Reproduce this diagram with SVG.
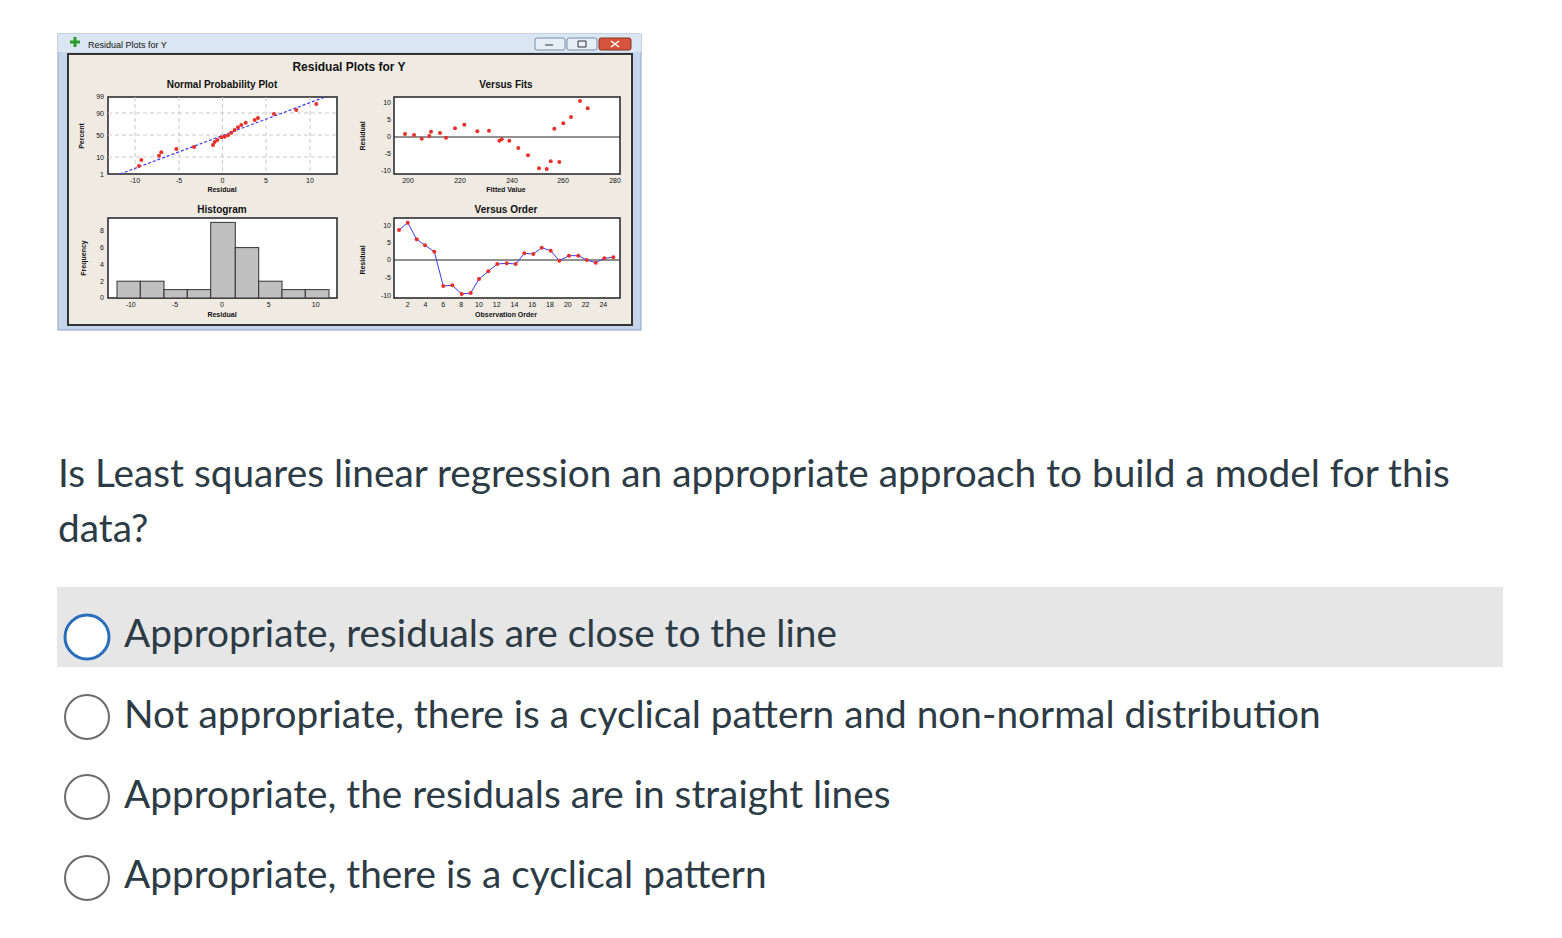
<svg xmlns="http://www.w3.org/2000/svg" width="1562" height="938" viewBox="0 0 1562 938">
<style>
.t{font-family:"Liberation Sans",Arial,sans-serif;fill:#111}
.b{font-weight:bold}
.tk{font-size:7px;font-family:"Liberation Sans",sans-serif;fill:#111}
.pt{fill:#e8302a}
.g{stroke:#c8c8c8;stroke-dasharray:4 3;stroke-width:1}
.box{fill:#fff;stroke:#222;stroke-width:1.5}
.bar{fill:#c0c0c0;stroke:#333;stroke-width:1}
.q{font-family:Lato,"Liberation Sans",sans-serif;font-size:38.8px;fill:#2d3b45}
.r{fill:#fff;stroke:#6b6b6b;stroke-width:2}
</style>
<rect width="1562" height="938" fill="#fff"/>
<g id="window">
<rect x="58" y="34" width="583" height="296" fill="#c6d6ea" stroke="#8aa3c4"/>
<rect x="58" y="34" width="583" height="18" fill="#dbe6f3"/>
<text x="88" y="48" class="t" font-size="9">Residual Plots for Y</text>
<path d="M70 42h10M75 37v10" stroke="#2a9a2a" stroke-width="3"/>
<rect x="535" y="38" width="30" height="12" rx="2" fill="#e6eef7" stroke="#7a8ca5"/>
<rect x="567" y="38" width="30" height="12" rx="2" fill="#e6eef7" stroke="#7a8ca5"/>
<rect x="599" y="38" width="32" height="12" rx="2" fill="#d4543d" stroke="#8a3020"/>
<path d="M545 45h8M578 41h8v6h-8z" stroke="#333" fill="none"/>
<path d="M611 41l8 6M619 41l-8 6" stroke="#fff" stroke-width="1.5"/>
<rect x="68" y="54" width="564" height="271" fill="#efebe3" stroke="#333" stroke-width="2"/>
<text x="349" y="71" class="t b" font-size="12" text-anchor="middle">Residual Plots for Y</text>
</g>
<g id="npp">
<text x="222" y="88" class="t b" font-size="10" text-anchor="middle">Normal Probability Plot</text>
<rect x="108" y="97" width="229" height="77" class="box"/>
<path class="g" d="M135 97V174M179 97V174M222.5 97V174M266 97V174M310 97V174M108 113H337M108 135H337M108 157H337"/>
<line x1="120" y1="174" x2="325" y2="97" stroke="#3a3af0" stroke-dasharray="3 2" stroke-width="1.2"/>
<g class="pt"><circle cx="139" cy="166" r="2"/><circle cx="141.3" cy="160" r="2"/><circle cx="159" cy="155.7" r="2"/><circle cx="161.3" cy="152.3" r="2"/><circle cx="176.3" cy="149" r="2"/><circle cx="194" cy="147" r="2"/><circle cx="213" cy="145" r="2"/><circle cx="214.7" cy="142" r="2"/><circle cx="217.3" cy="140" r="2"/><circle cx="221.3" cy="137.3" r="2"/><circle cx="224.7" cy="136.7" r="2"/><circle cx="228" cy="135.3" r="2"/><circle cx="231.3" cy="132.7" r="2"/><circle cx="234.7" cy="130" r="2"/><circle cx="238" cy="127.3" r="2"/><circle cx="241.3" cy="125" r="2"/><circle cx="245.7" cy="122.7" r="2"/><circle cx="254.7" cy="120" r="2"/><circle cx="258" cy="118" r="2"/><circle cx="274" cy="114" r="2"/><circle cx="296.3" cy="110" r="2"/><circle cx="316.3" cy="104" r="2"/></g>
<g class="tk" text-anchor="end"><text x="104" y="99">99</text><text x="104" y="116">90</text><text x="104" y="138">50</text><text x="104" y="160">10</text><text x="104" y="177">1</text></g>
<g class="tk" text-anchor="middle"><text x="135" y="183">-10</text><text x="179" y="183">-5</text><text x="222.5" y="183">0</text><text x="266" y="183">5</text><text x="310" y="183">10</text></g>
<text x="222" y="192" class="t b" font-size="7" text-anchor="middle">Residual</text>
<text transform="translate(84 136) rotate(-90)" class="t b" font-size="7" text-anchor="middle">Percent</text>
</g>
<g id="hist">
<text x="222" y="213" class="t b" font-size="10" text-anchor="middle">Histogram</text>
<rect x="108" y="218" width="229" height="80" class="box"/>
<g class="bar"><rect x="117" y="281.2" width="23.3" height="16.8"/><rect x="140.3" y="281.2" width="23.7" height="16.8"/><rect x="164" y="289.6" width="23.3" height="8.4"/><rect x="187.3" y="289.6" width="23.4" height="8.4"/><rect x="210.7" y="222.4" width="24.6" height="75.6"/><rect x="235.3" y="247.6" width="23.4" height="50.4"/><rect x="258.7" y="281.2" width="23.3" height="16.8"/><rect x="282" y="289.6" width="23.3" height="8.4"/><rect x="305.3" y="289.6" width="23.7" height="8.4"/></g>
<g class="tk" text-anchor="end"><text x="104" y="233">8</text><text x="104" y="250">6</text><text x="104" y="267">4</text><text x="104" y="284">2</text><text x="104" y="300">0</text></g>
<g class="tk" text-anchor="middle"><text x="130.7" y="307">-10</text><text x="175" y="307">-5</text><text x="222" y="307">0</text><text x="268.7" y="307">5</text><text x="315.7" y="307">10</text></g>
<text x="222" y="317" class="t b" font-size="7" text-anchor="middle">Residual</text>
<text transform="translate(86 258) rotate(-90)" class="t b" font-size="7" text-anchor="middle">Frequency</text>
</g>
<g id="fits">
<text x="506" y="88" class="t b" font-size="10" text-anchor="middle">Versus Fits</text>
<rect x="394" y="97" width="226" height="77" class="box"/>
<line x1="394" y1="137" x2="620" y2="137" stroke="#222"/>
<g class="pt"><circle cx="405" cy="134" r="2"/><circle cx="414" cy="135" r="2"/><circle cx="421.7" cy="138.7" r="2"/><circle cx="429.3" cy="136" r="2"/><circle cx="431" cy="131.7" r="2"/><circle cx="440" cy="133" r="2"/><circle cx="446" cy="137.7" r="2"/><circle cx="455" cy="128.3" r="2"/><circle cx="464.3" cy="124.7" r="2"/><circle cx="477.3" cy="131.3" r="2"/><circle cx="489" cy="130.7" r="2"/><circle cx="499.3" cy="140.7" r="2"/><circle cx="501.7" cy="139.3" r="2"/><circle cx="509.3" cy="140.7" r="2"/><circle cx="518.3" cy="148" r="2"/><circle cx="528" cy="155.3" r="2"/><circle cx="539" cy="168.3" r="2"/><circle cx="546.7" cy="169" r="2"/><circle cx="550.7" cy="161.3" r="2"/><circle cx="559.3" cy="162" r="2"/><circle cx="554.3" cy="128.7" r="2"/><circle cx="563.3" cy="123.3" r="2"/><circle cx="571" cy="117" r="2"/><circle cx="580" cy="101" r="2"/><circle cx="587.7" cy="108.3" r="2"/></g>
<g class="tk" text-anchor="end"><text x="391" y="105">10</text><text x="391" y="122">5</text><text x="391" y="139">0</text><text x="391" y="156">-5</text><text x="391" y="173">-10</text></g>
<g class="tk" text-anchor="middle"><text x="408" y="183">200</text><text x="460" y="183">220</text><text x="512" y="183">240</text><text x="563" y="183">260</text><text x="615" y="183">280</text></g>
<text x="506" y="192" class="t b" font-size="7" text-anchor="middle">Fitted Value</text>
<text transform="translate(365 136) rotate(-90)" class="t b" font-size="7" text-anchor="middle">Residual</text>
</g>
<g id="order">
<text x="506" y="213" class="t b" font-size="10" text-anchor="middle">Versus Order</text>
<rect x="394" y="218" width="226" height="80" class="box"/>
<line x1="394" y1="260" x2="620" y2="260" stroke="#222"/>
<polyline fill="none" stroke="#3a3af0" stroke-width="1" points="399,230 407.7,222.7 416.7,239.3 425,245.3 434.3,251.7 443.3,286 452.3,285.3 461.7,294 470.7,293 479,279 488.3,271.3 497.3,264 506.7,263.3 515.7,264 524.3,253.3 533.3,254 541.7,247.7 550.7,250.7 559.3,260.7 569,255.7 578.3,255.7 586.7,260 595.7,262.7 604.3,258.3 613.3,257.3"/>
<g class="pt"><circle cx="399" cy="230" r="2"/><circle cx="407.7" cy="222.7" r="2"/><circle cx="416.7" cy="239.3" r="2"/><circle cx="425" cy="245.3" r="2"/><circle cx="434.3" cy="251.7" r="2"/><circle cx="443.3" cy="286" r="2"/><circle cx="452.3" cy="285.3" r="2"/><circle cx="461.7" cy="294" r="2"/><circle cx="470.7" cy="293" r="2"/><circle cx="479" cy="279" r="2"/><circle cx="488.3" cy="271.3" r="2"/><circle cx="497.3" cy="264" r="2"/><circle cx="506.7" cy="263.3" r="2"/><circle cx="515.7" cy="264" r="2"/><circle cx="524.3" cy="253.3" r="2"/><circle cx="533.3" cy="254" r="2"/><circle cx="541.7" cy="247.7" r="2"/><circle cx="550.7" cy="250.7" r="2"/><circle cx="559.3" cy="260.7" r="2"/><circle cx="569" cy="255.7" r="2"/><circle cx="578.3" cy="255.7" r="2"/><circle cx="586.7" cy="260" r="2"/><circle cx="595.7" cy="262.7" r="2"/><circle cx="604.3" cy="258.3" r="2"/><circle cx="613.3" cy="257.3" r="2"/></g>
<g class="tk" text-anchor="end"><text x="391" y="228">10</text><text x="391" y="245">5</text><text x="391" y="262">0</text><text x="391" y="280">-5</text><text x="391" y="298">-10</text></g>
<g class="tk" text-anchor="middle"><text x="407.7" y="307">2</text><text x="425.5" y="307">4</text><text x="443.3" y="307">6</text><text x="461.1" y="307">8</text><text x="478.9" y="307">10</text><text x="496.7" y="307">12</text><text x="514.5" y="307">14</text><text x="532.2" y="307">16</text><text x="550" y="307">18</text><text x="567.8" y="307">20</text><text x="585.6" y="307">22</text><text x="603.3" y="307">24</text></g>
<text x="506" y="317" class="t b" font-size="7" text-anchor="middle">Observation Order</text>
<text transform="translate(365 260) rotate(-90)" class="t b" font-size="7" text-anchor="middle">Residual</text>
</g>
<g id="question">
<text x="58" y="487" class="q">Is Least squares linear regression an appropriate approach to build a model for this</text>
<text x="58" y="542" class="q">data?</text>
</g>
<g id="options">
<rect x="57" y="587" width="1446" height="80" fill="#e6e6e6"/>
<circle cx="87" cy="637" r="22" fill="#fff" stroke="#2a6ebb" stroke-width="3"/>
<text x="124" y="647" class="q">Appropriate, residuals are close to the line</text>
<circle cx="87" cy="717" r="22" class="r"/>
<text x="124" y="728" class="q">Not appropriate, there is a cyclical pattern and non-normal distribution</text>
<circle cx="87" cy="797" r="22" class="r"/>
<text x="124" y="808" class="q">Appropriate, the residuals are in straight lines</text>
<circle cx="87" cy="878" r="22" class="r"/>
<text x="124" y="888" class="q">Appropriate, there is a cyclical pattern</text>
</g>
</svg>
